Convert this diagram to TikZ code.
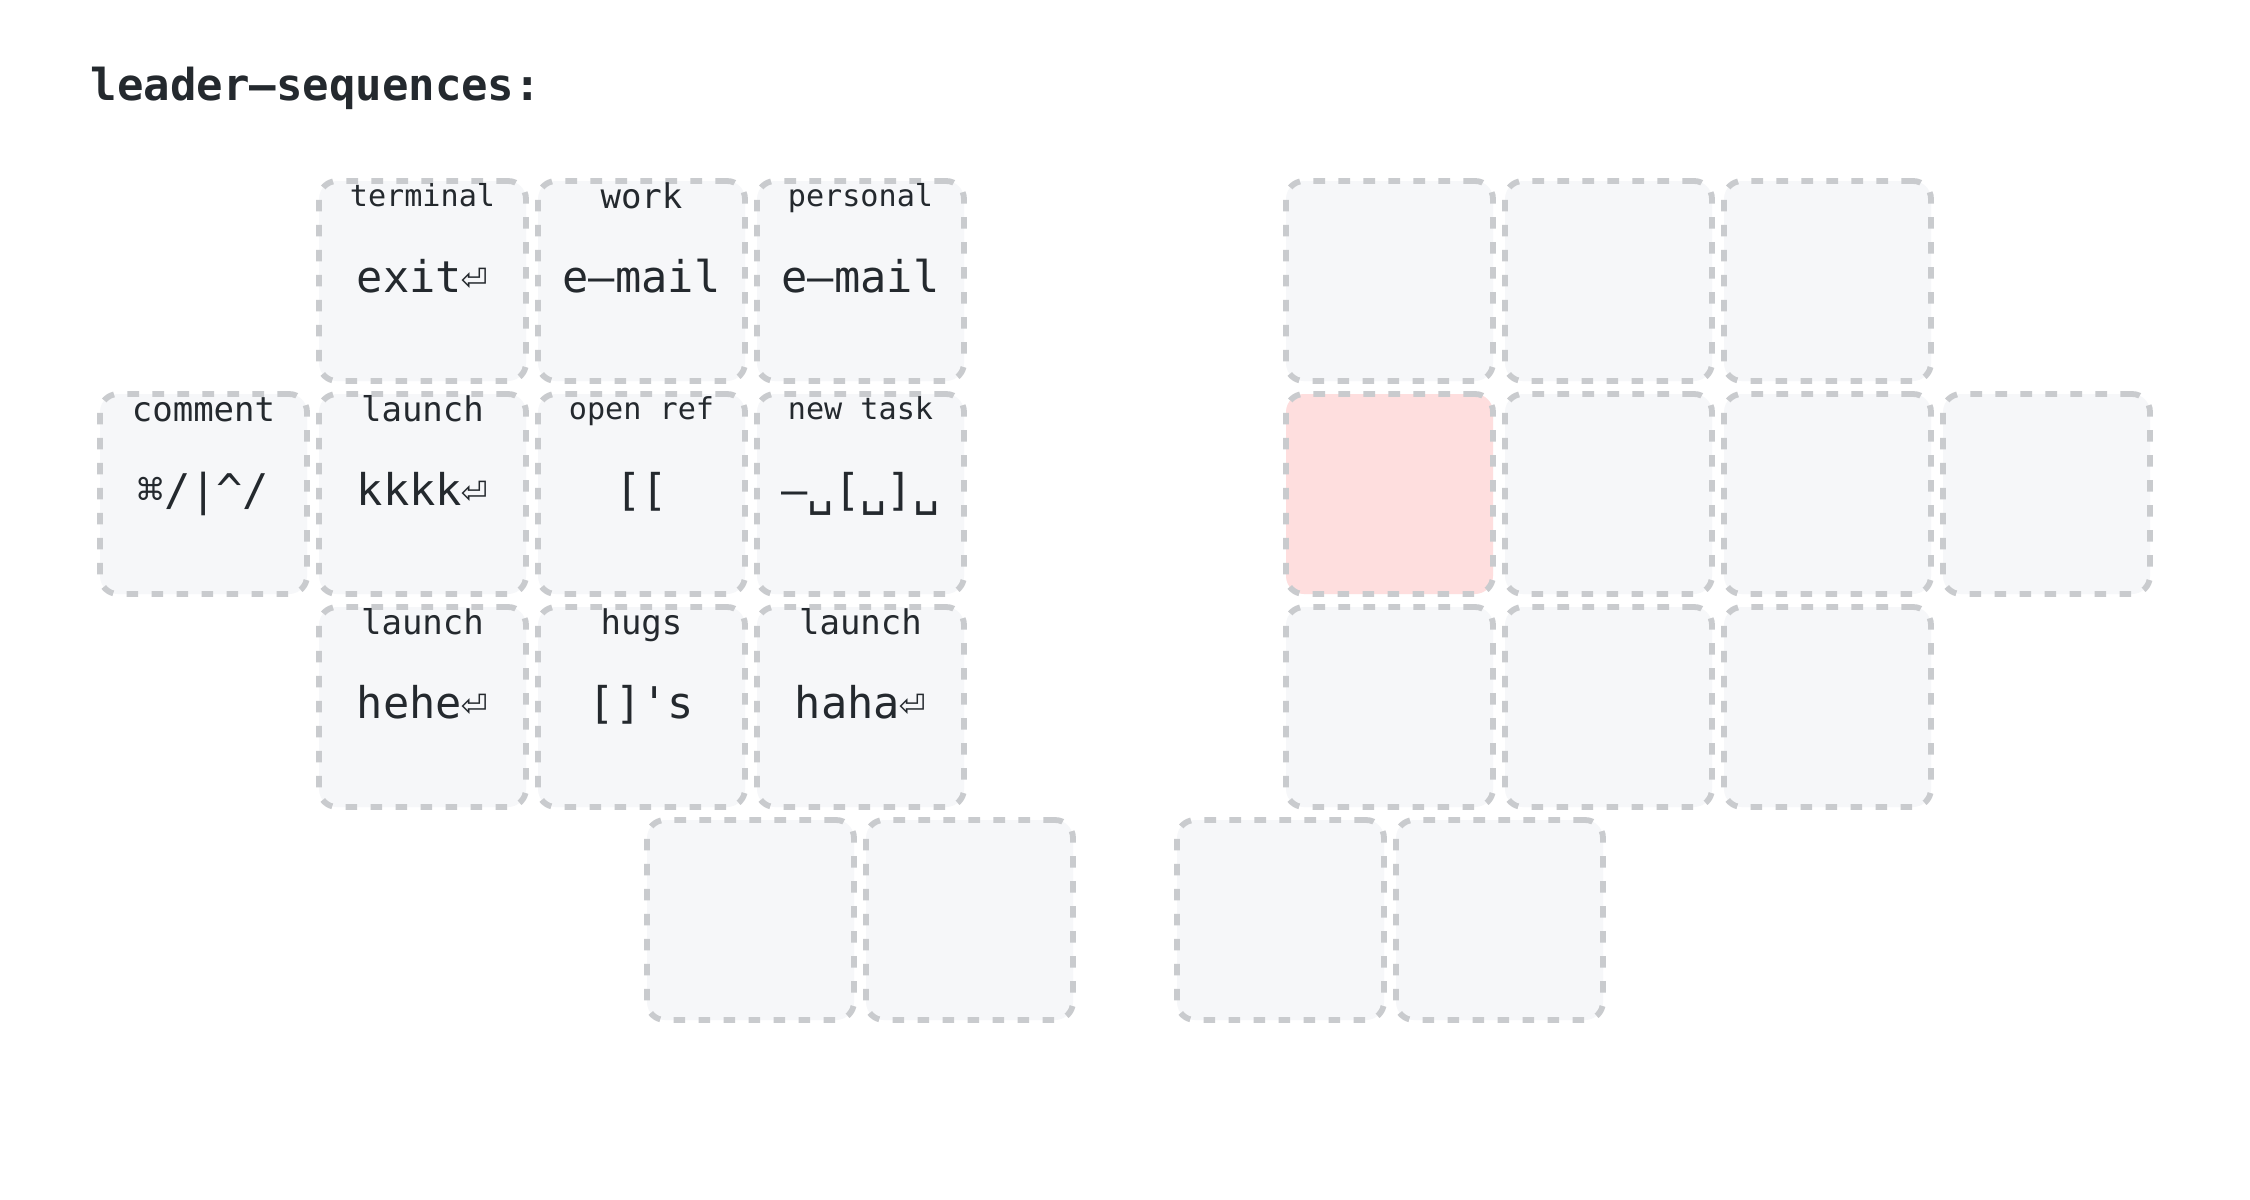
\documentclass[tikz,border=0pt]{standalone}
\usepackage{fontspec}
\setmonofont{DejaVu Sans Mono}
\definecolor{keyline}{HTML}{C9CBCE}
\definecolor{keyfill}{HTML}{F6F7F9}
\definecolor{heldfill}{HTML}{FEDEDE}
\definecolor{ink}{HTML}{24292E}
\newcommand\mykey[6]{%
  \node[#6] (#1) at (#2,#3) {};
}
\newcommand\mylegend[5]{%
  \node[tapleg] (#1t) at ([yshift=-3.3pt]#1.center) {#3};
  \node[#5] (#1h) at ([yshift=#4]#1.north) {#2};
}
\begin{document}
\begin{tikzpicture}[x=0.3pt,y=-0.3pt,
  keybox/.style={draw=keyline, fill=keyfill, line width=1.75pt,
    dash pattern=on 3.5pt off 4pt, rounded corners=5.4pt,
    minimum width=62.1pt, minimum height=60pt, inner sep=0pt, outer sep=0pt},
  heldbox/.style={keybox, fill=heldfill},
  tapleg/.style={font=\ttfamily\fontsize{13.1pt}{15pt}\selectfont, text=ink,
    anchor=base, inner sep=0pt},
  bigleg/.style={font=\ttfamily\fontsize{10.2pt}{12pt}\selectfont, text=ink,
    anchor=base, inner sep=0pt},
  smallleg/.style={font=\ttfamily\fontsize{9.05pt}{11pt}\selectfont, text=ink,
    anchor=base, inner sep=0pt},
  titlestyle/.style={font=\ttfamily\bfseries\fontsize{13.2pt}{15pt}\selectfont,
    text=ink, anchor=base west, inner sep=0pt}
]
\useasboundingbox[fill=white] (0,0) rectangle (2250,1200);
\node[titlestyle] (title) at (90,100) {leader–sequences:};

% left half
\mykey{L01}{422.5}{281}{}{}{keybox}
\mykey{L02}{641.5}{281}{}{}{keybox}
\mykey{L03}{860.5}{281}{}{}{keybox}
\mykey{L10}{203.5}{494}{}{}{keybox}
\mykey{L11}{422.5}{494}{}{}{keybox}
\mykey{L12}{641.5}{494}{}{}{keybox}
\mykey{L13}{860.5}{494}{}{}{keybox}
\mykey{L21}{422.5}{707}{}{}{keybox}
\mykey{L22}{641.5}{707}{}{}{keybox}
\mykey{L23}{860.5}{707}{}{}{keybox}
\mykey{T1}{750.5}{920}{}{}{keybox}
\mykey{T2}{969.5}{920}{}{}{keybox}
% right half
\mykey{R00}{1389.5}{281}{}{}{keybox}
\mykey{R01}{1608.5}{281}{}{}{keybox}
\mykey{R02}{1827.5}{281}{}{}{keybox}
\mykey{R10}{1389.5}{494}{}{}{heldbox}
\mykey{R11}{1608.5}{494}{}{}{keybox}
\mykey{R12}{1827.5}{494}{}{}{keybox}
\mykey{R13}{2046.5}{494}{}{}{keybox}
\mykey{R20}{1389.5}{707}{}{}{keybox}
\mykey{R21}{1608.5}{707}{}{}{keybox}
\mykey{R22}{1827.5}{707}{}{}{keybox}
\mykey{T3}{1280.5}{920}{}{}{keybox}
\mykey{T4}{1499.5}{920}{}{}{keybox}

% legends
\mylegend{L01}{terminal}{exit⏎}{-7.5pt}{smallleg}
\mylegend{L02}{work}{e–mail}{-8.1pt}{bigleg}
\mylegend{L03}{personal}{e–mail}{-7.5pt}{smallleg}
\mylegend{L10}{comment}{⌘/|\textasciicircum/}{-8.1pt}{bigleg}
\mylegend{L11}{launch}{kkkk⏎}{-8.1pt}{bigleg}
\mylegend{L12}{open ref}{[[}{-7.5pt}{smallleg}
\mylegend{L13}{new task}{–␣[␣]␣}{-7.5pt}{smallleg}
\mylegend{L21}{launch}{hehe⏎}{-8.1pt}{bigleg}
\mylegend{L22}{hugs}{[]'s}{-8.1pt}{bigleg}
\mylegend{L23}{launch}{haha⏎}{-8.1pt}{bigleg}
\end{tikzpicture}
\end{document}
